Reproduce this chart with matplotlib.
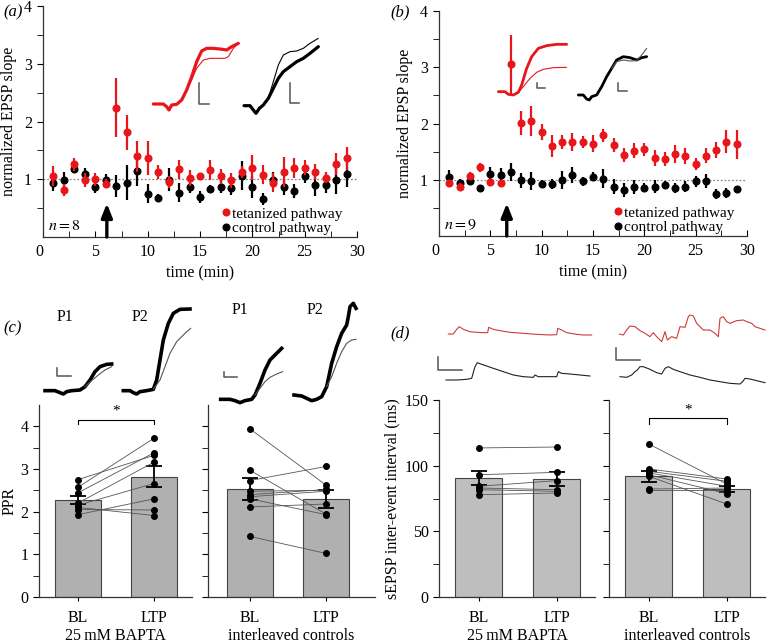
import numpy as np
import matplotlib
matplotlib.use('Agg')
import matplotlib.pyplot as plt
from matplotlib.lines import Line2D

plt.rcParams['font.family'] = ['Liberation Serif', 'DejaVu Serif']
plt.rcParams['mathtext.fontset'] = 'stix'
plt.rcParams['font.size'] = 11
plt.rcParams['axes.linewidth'] = 0.9
plt.rcParams['axes.edgecolor'] = '#333333'

W, H = 768, 644
RED = '#e8161b'
TRACE_RED = '#d23a3a'
GREY = '#555555'

# ---- time courses (a) and (b) ----
time_min = list(range(1, 30))

a_tet = [1.06, 0.81, 1.26, 0.98, 1.00, 0.92, 2.24, 1.81, 1.40, 1.37, 1.13, 0.95, 1.17, 1.02, 1.05,
         1.16, 1.05, 0.98, 1.13, 1.20, 1.08, 0.94, 1.12, 1.19, 1.20, 1.12, 1.03, 1.26, 1.36]
a_tet_err = [0.17, 0.10, 0.11, 0.12, 0.11, 0.08, 0.51, 0.30, 0.27, 0.29, 0.12, 0.10, 0.16, 0.14, 0.06,
             0.17, 0.13, 0.13, 0.10, 0.22, 0.16, 0.16, 0.26, 0.17, 0.13, 0.14, 0.10, 0.19, 0.20]
a_ctl = [0.93, 0.99, 1.18, 1.09, 0.86, 0.98, 0.88, 0.94, 1.14, 0.75, 0.68, 0.99, 0.77, 0.87, 0.69,
         0.83, 0.87, 0.85, 1.06, 0.87, 0.66, 0.99, 0.86, 0.80, 1.06, 0.90, 0.90, 0.99, 1.09]
a_ctl_err = [0.13, 0.14, 0.07, 0.10, 0.10, 0.11, 0.19, 0.30, 0.26, 0.16, 0.07, 0.20, 0.16, 0.10, 0.10,
             0.07, 0.11, 0.13, 0.25, 0.19, 0.10, 0.14, 0.14, 0.12, 0.13, 0.19, 0.14, 0.25, 0.23]

b_tet = [0.94, 0.88, 1.07, 1.22, 0.96, 0.95, 3.05, 2.01, 2.05, 1.85, 1.60, 1.67, 1.67, 1.67, 1.64,
         1.79, 1.62, 1.44, 1.52, 1.54, 1.39, 1.37, 1.46, 1.42, 1.28, 1.43, 1.53, 1.68, 1.63]
b_tet_err = [0.06, 0.06, 0.07, 0.08, 0.05, 0.05, 0.52, 0.22, 0.27, 0.15, 0.20, 0.12, 0.16, 0.11, 0.15,
             0.11, 0.12, 0.12, 0.13, 0.12, 0.14, 0.12, 0.16, 0.14, 0.10, 0.14, 0.15, 0.20, 0.26]
b_ctl = [1.05, 0.94, 0.98, 0.85, 1.11, 1.09, 1.14, 0.99, 0.98, 0.92, 0.92, 0.99, 1.09, 0.97, 1.05,
         1.02, 0.88, 0.82, 0.87, 0.86, 0.88, 0.90, 0.85, 0.88, 0.97, 0.98, 0.75, 0.77, 0.83]
b_ctl_err = [0.12, 0.07, 0.08, 0.05, 0.12, 0.12, 0.16, 0.13, 0.16, 0.07, 0.09, 0.16, 0.14, 0.08, 0.08,
             0.17, 0.13, 0.12, 0.13, 0.08, 0.12, 0.07, 0.09, 0.09, 0.10, 0.12, 0.09, 0.09, 0.03]

# ---- PPR (c) ----
c_bapta_mean = [2.27, 2.82]
c_bapta_sem = [0.10, 0.24]
c_bapta_bl = [2.75, 2.57, 2.44, 2.20, 2.15, 2.10, 2.05, 1.93]
c_bapta_ltp = [3.32, 3.72, 3.38, 3.16, 2.66, 1.91, 2.04, 2.30]
c_ctrl_mean = [2.54, 2.30]
c_ctrl_sem = [0.26, 0.21]
c_ctrl_bl = [3.94, 2.97, 2.73, 2.48, 2.40, 2.35, 2.30, 2.11, 1.42]
c_ctrl_ltp = [2.62, 1.94, 3.06, 2.50, 2.52, 2.48, 1.93, 2.18, 1.02]

# ---- sEPSP interval (d) ----
d_bapta_mean = [90.6, 89.8]
d_bapta_sem = [5.3, 5.2]
d_bapta_bl = [113.5, 93.1, 84.3, 83.0, 81.7, 77.9]
d_bapta_ltp = [114.2, 94.9, 88.6, 81.7, 80.5, 79.2]
d_ctrl_mean = [91.9, 82.2]
d_ctrl_sem = [4.0, 2.3]
d_ctrl_bl = [116.5, 97.5, 95.7, 94.5, 93.1, 91.9, 82.2, 81.2]
d_ctrl_ltp = [86.0, 89.8, 88.1, 84.3, 78.7, 70.8, 83.0, 81.0]

conditions = ['BL', 'LTP']

# ---- example traces (read in local frame units) ----
a_red_thick = ([10, 40, 50, 57, 65, 80, 95, 110, 125, 140, 155, 170, 190, 210, 230, 245, 265],
               [267, 267, 275, 285, 270, 268, 255, 225, 185, 140, 108, 100, 100, 102, 105, 95, 85])
a_red_thin = ([110, 125, 140, 160, 180, 225, 235, 250, 265],
              [225, 195, 160, 135, 130, 130, 125, 100, 85])
a_blk_thick = ([282, 300, 310, 318, 328, 340, 355, 370, 385, 400, 420, 440, 460, 480, 505],
               [272, 272, 285, 295, 280, 270, 250, 220, 190, 170, 155, 140, 130, 115, 95])
a_blk_thin = ([355, 370, 385, 400, 420, 440, 460, 480, 505],
              [250, 200, 150, 120, 110, 108, 100, 85, 70])
b_red_thick = ([1045, 1065, 1075, 1090, 1105, 1115, 1130, 1145, 1165, 1190, 1220, 1250],
               [230, 230, 238, 240, 232, 210, 160, 125, 100, 92, 88, 88])
b_red_thin = ([1105, 1120, 1140, 1160, 1180, 1210, 1250],
              [232, 215, 190, 172, 163, 158, 157])
b_blk_thick = ([1285, 1300, 1310, 1318, 1325, 1340, 1355, 1370, 1385, 1400, 1420, 1440, 1460, 1475, 1490],
               [240, 240, 252, 255, 245, 240, 215, 185, 160, 135, 125, 128, 135, 128, 125])
b_blk_thin = ([1385, 1400, 1420, 1440, 1460, 1475, 1490],
              [160, 140, 135, 138, 137, 120, 100])

c1_p1_thick = ([135, 165, 180, 190, 200, 215, 240, 255, 270, 285, 300, 320, 335],
               [512, 512, 518, 522, 515, 512, 510, 500, 480, 455, 440, 433, 432])
c1_p1_thin = ([255, 275, 295, 315, 335], [500, 482, 465, 450, 440])
c1_p2_thick = ([370, 390, 400, 410, 420, 440, 460, 470, 480, 490, 505, 520, 540, 570],
               [512, 512, 518, 522, 515, 512, 508, 480, 420, 360, 310, 280, 268, 267])
c1_p2_thin = ([460, 480, 495, 510, 530, 555, 572], [508, 480, 440, 400, 365, 340, 325])
c2_p1_thick = ([122, 150, 165, 180, 195, 215, 225, 240, 255, 270, 290, 305],
               [538, 538, 542, 548, 542, 538, 525, 490, 450, 420, 400, 385])
c2_p1_thin = ([225, 240, 255, 270, 290, 308], [525, 505, 485, 472, 462, 455])
c2_p2_thick = ([342, 365, 380, 395, 410, 425, 440, 455, 470, 485, 500, 505, 510, 520, 528],
               [525, 528, 535, 542, 538, 530, 500, 430, 380, 340, 315, 290, 260, 250, 265])
c2_p2_thin = ([440, 455, 470, 485, 500, 515, 528], [500, 470, 430, 395, 370, 360, 358])

d_red_left = ([175, 190, 200, 208, 220, 240, 260, 280, 293, 296, 310, 330, 360, 400, 440, 480, 500, 503,
               515, 530, 560, 580, 605],
              [342, 342, 328, 320, 328, 335, 337, 338, 338, 322, 328, 332, 337, 340, 343, 345, 344, 325,
               330, 338, 343, 345, 345])
d_blk_left = ([168, 200, 230, 245, 255, 262, 275, 290, 310, 340, 370, 400, 430, 435, 445, 470, 500, 505,
               515, 540, 570, 600],
              [480, 480, 478, 475, 440, 428, 433, 438, 445, 455, 465, 470, 472, 465, 470, 470, 470, 455,
               460, 462, 465, 468])
d_red_right = ([688, 700, 710, 720, 735, 750, 765, 780, 790, 800, 815, 825, 832, 845, 860, 870, 885, 895,
                900, 910, 920, 940, 960, 975, 985, 990, 1000, 1010, 1020, 1040, 1060, 1070, 1085, 1095,
                1110, 1125],
               [342, 345, 330, 318, 320, 332, 340, 350, 338, 350, 365, 335, 360, 350, 355, 320, 322, 290,
                285, 288, 310, 330, 330, 340, 350, 295, 290, 305, 310, 302, 300, 305, 310, 320, 325, 330])
d_blk_right = ([690, 710, 725, 735, 742, 750, 760, 780, 800, 815, 825, 835, 850, 870, 900, 930, 960, 990,
                1020, 1050, 1058, 1065, 1080, 1100, 1125],
               [470, 472, 465, 455, 450, 440, 440, 448, 458, 462, 445, 440, 448, 455, 465, 472, 480, 485,
                490, 492, 485, 475, 477, 482, 488])

fig = plt.figure(figsize=(W / 100, H / 100), dpi=100)


def px_axes(left, top, right, bottom):
    return fig.add_axes([left / W, 1 - bottom / H, (right - left) / W, (bottom - top) / H])


def frame_axes(ox, oy, w, h):
    fr = px_axes(ox, oy, ox + w, oy + h)
    fr.set_xlim(0, 3 * w)
    fr.set_ylim(3 * h, 0)
    fr.axis('off')
    fr.patch.set_alpha(0)
    return fr


def scale_bar(fr, x, y0, y1, length):
    fr.plot([x, x, x + length], [y0, y1, y1], color=GREY, lw=1.1)


def time_panel(ax, tet, tet_err, ctl, ctl_err, arrow_x, n_label):
    ax.axhline(1, color='#888888', ls=(0, (1.5, 1.5)), lw=0.9, zorder=0)
    ax.errorbar(time_min, ctl, yerr=ctl_err, fmt='o', color='k', ms=4.8, elinewidth=1.6, capsize=0, zorder=3)
    ax.errorbar(time_min, tet, yerr=tet_err, fmt='o', color=RED, ms=4.8, elinewidth=1.6, capsize=0, zorder=4)
    ax.annotate('', xy=(arrow_x, 0.58), xytext=(arrow_x, 0),
                arrowprops=dict(arrowstyle='-|>,head_width=0.3,head_length=0.75', lw=2.4, color='k',
                                shrinkA=0, shrinkB=0))
    ax.set_xlim(0, 30)
    ax.set_ylim(0, 4)
    ax.set_xticks([0, 5, 10, 15, 20, 25, 30])
    ax.set_xticks(np.arange(2.5, 30, 5), minor=True)
    ax.set_yticks([1, 2, 3, 4])
    ax.set_yticks([0.5, 1.5, 2.5, 3.5], minor=True)
    ax.tick_params(axis='x', which='both', direction='in', length=4, pad=5)
    ax.tick_params(axis='y', which='both', direction='out', length=4, pad=4)
    ax.tick_params(labelsize=11.5)
    ax.xaxis.get_majorticklabels()[0].set_horizontalalignment('right')
    for s in ['top', 'right']:
        ax.spines[s].set_visible(False)
    ax.set_xlabel('time (min)', fontsize=11.5, labelpad=4)
    ax.set_ylabel('normalized EPSP slope', fontsize=11.5, labelpad=5)
    ax.text(0.015, 0.03, n_label, transform=ax.transAxes, fontsize=11.5)
    handles = [Line2D([], [], marker='o', ls='none', color=RED, ms=4.8),
               Line2D([], [], marker='o', ls='none', color='k', ms=4.8)]
    ax.legend(handles, ['tetanized pathway', 'control pathway'], loc='lower left',
              bbox_to_anchor=(0.57, 0.008), frameon=False, handlelength=0.5, handletextpad=0.15,
              labelspacing=0.05, borderpad=0, borderaxespad=0, fontsize=11)


ax_a = px_axes(43, 6, 357, 237)
time_panel(ax_a, a_tet, a_tet_err, a_ctl, a_ctl_err, 6.1, r'$n = 8$')
ax_b = px_axes(439, 11, 747, 236)
time_panel(ax_b, b_tet, b_tet_err, b_ctl, b_ctl_err, 6.6, r'$n = 9$')


def bar_panel(ax, mean, sem, bl_pts, ltp_pts, color, ylim, major, minor, show_labels, group):
    x = [0, 1]
    ax.bar(x, mean, width=0.6, color=color, edgecolor='#444444', lw=0.8, zorder=1)
    ax.errorbar(x, mean, yerr=sem, fmt='none', ecolor='k', elinewidth=1.3, capsize=5.5, capthick=1.3, zorder=2)
    for b, l in zip(bl_pts, ltp_pts):
        ax.plot(x, [b, l], color=GREY, lw=0.6, zorder=3)
    ax.plot([0] * len(bl_pts), bl_pts, 'o', color='k', ms=4, zorder=4)
    ax.plot([1] * len(ltp_pts), ltp_pts, 'o', color='k', ms=4, zorder=4)
    ax.set_ylim(*ylim)
    ax.set_yticks(major)
    ax.set_yticks(minor, minor=True)
    if not show_labels:
        ax.set_yticklabels([])
    ax.set_xticks(x)
    ax.set_xticklabels(conditions)
    ax.tick_params(axis='both', which='both', direction='out', length=4, labelsize=11.5)
    ax.tick_params(axis='x', length=3, pad=6)
    for s in ['top', 'right']:
        ax.spines[s].set_visible(False)
    ax.set_xlabel(group, fontsize=11.5, labelpad=2)


def sig_bracket(ax, y, tick):
    ax.plot([0, 0, 1, 1], [y - tick, y, y, y - tick], color='k', lw=0.8, clip_on=False)
    ax.text(0.5, y + tick * 0.4, '*', ha='center', va='bottom', fontsize=11)


ax_c1 = px_axes(39, 405, 192, 597)
bar_panel(ax_c1, c_bapta_mean, c_bapta_sem, c_bapta_bl, c_bapta_ltp, '#b0b0b0', (0, 4.5),
          [0, 1, 2, 3, 4], np.arange(0.5, 4.5, 1), True, '25\u2009mM BAPTA')
ax_c1.set_xlim(-0.51, 1.5)
ax_c1.set_ylabel('PPR', fontsize=11.5, labelpad=2)
sig_bracket(ax_c1, 4.16, 0.1)

ax_c2 = px_axes(208, 405, 375, 597)
bar_panel(ax_c2, c_ctrl_mean, c_ctrl_sem, c_ctrl_bl, c_ctrl_ltp, '#b0b0b0', (0, 4.5),
          [0, 1, 2, 3, 4], np.arange(0.5, 4.5, 1), False, 'interleaved controls')
ax_c2.set_xlim(-0.55, 1.64)

ax_d1 = px_axes(439, 400, 595, 597)
bar_panel(ax_d1, d_bapta_mean, d_bapta_sem, d_bapta_bl, d_bapta_ltp, '#bebebe', (0, 150),
          [0, 50, 100, 150], [25, 75, 125], True, '25\u2009mM BAPTA')
ax_d1.set_xlim(-0.51, 1.49)
ax_d1.set_ylabel('sEPSP inter-event interval (ms)', fontsize=11.5, labelpad=3)

ax_d2 = px_axes(609, 400, 765, 597)
bar_panel(ax_d2, d_ctrl_mean, d_ctrl_sem, d_ctrl_bl, d_ctrl_ltp, '#bebebe', (0, 150),
          [0, 50, 100, 150], [25, 75, 125], False, 'interleaved controls')
ax_d2.set_xlim(-0.51, 1.49)
sig_bracket(ax_d2, 136, 4)

# ---- example traces ----
fr_ab = frame_axes(150, 15, 610, 100)
for tr, col, lw in [(a_red_thick, RED, 2.3), (a_red_thin, RED, 0.8), (a_blk_thick, 'k', 2.3),
                    (a_blk_thin, 'k', 0.8), (b_red_thick, RED, 2.0), (b_red_thin, RED, 0.8),
                    (b_blk_thick, 'k', 2.0), (b_blk_thin, GREY, 0.8)]:
    fr_ab.plot(tr[0], tr[1], color=col, lw=lw, solid_capstyle='round')
scale_bar(fr_ab, 148, 205, 267, 30)
scale_bar(fr_ab, 420, 205, 265, 28)
scale_bar(fr_ab, 1160, 205, 218, 25)
scale_bar(fr_ab, 1405, 205, 228, 25)

fr_c1 = frame_axes(0, 220, 200, 220)
for tr, col, lw in [(c1_p1_thick, 'k', 2.6), (c1_p1_thin, GREY, 0.8), (c1_p2_thick, 'k', 2.6),
                    (c1_p2_thin, GREY, 0.8)]:
    fr_c1.plot(tr[0], tr[1], color=col, lw=lw)
scale_bar(fr_c1, 172, 445, 468, 40)
fr_c1.text(195, 290, 'P1', ha='center', va='center', fontsize=11.5)
fr_c1.text(420, 290, 'P2', ha='center', va='center', fontsize=11.5)

fr_c2 = frame_axes(180, 220, 200, 220)
for tr, col, lw in [(c2_p1_thick, 'k', 2.6), (c2_p1_thin, GREY, 0.8), (c2_p2_thick, 'k', 2.6),
                    (c2_p2_thin, GREY, 0.8)]:
    fr_c2.plot(tr[0], tr[1], color=col, lw=lw)
scale_bar(fr_c2, 133, 455, 470, 39)
fr_c2.text(180, 270, 'P1', ha='center', va='center', fontsize=11.5)
fr_c2.text(405, 270, 'P2', ha='center', va='center', fontsize=11.5)

fr_d = frame_axes(390, 220, 378, 200)
for tr, col in [(d_red_left, TRACE_RED), (d_blk_left, '#222222'), (d_red_right, TRACE_RED),
                (d_blk_right, '#222222')]:
    fr_d.plot(tr[0], tr[1], color=col, lw=0.8)
scale_bar(fr_d, 145, 410, 450, 70)
scale_bar(fr_d, 678, 385, 420, 72)

# panel letters
for letter, x, y in [('(a)', 3, 12), ('(b)', 390, 12), ('(c)', 3, 328), ('(d)', 390, 333)]:
    fig.text(x / W, 1 - y / H, letter, fontsize=12, fontstyle='italic', va='center', ha='left')

fig.savefig('out.png', dpi=100)
